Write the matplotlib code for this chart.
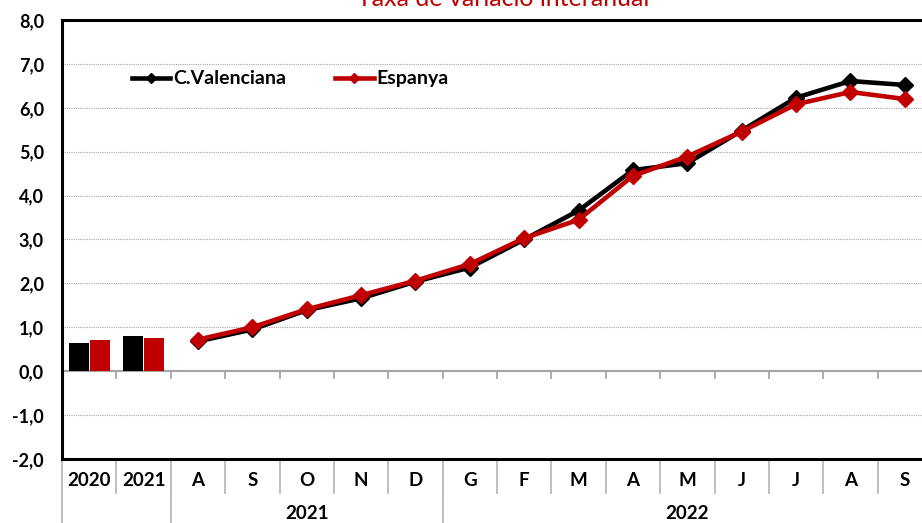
import numpy as np
import matplotlib
matplotlib.use("Agg")
from matplotlib import pyplot as plt
from matplotlib.ticker import FuncFormatter
import matplotlib.transforms as mtransforms

plt.rcParams['font.family'] = ['Lato', 'DejaVu Sans']

# annual bars + monthly lines
years_bar = ['2020', '2021']
cv_bar = [0.64, 0.81]
es_bar = [0.70, 0.75]

months = ['A', 'S', 'O', 'N', 'D', 'G', 'F', 'M', 'A', 'M', 'J', 'J', 'A', 'S']
cv_month = [0.68, 0.95, 1.39, 1.66, 2.04, 2.36, 3.00, 3.66, 4.58, 4.74, 5.48, 6.23, 6.61, 6.52]
es_month = [0.72, 1.00, 1.41, 1.73, 2.06, 2.44, 3.03, 3.45, 4.45, 4.89, 5.46, 6.08, 6.36, 6.20]

year_groups = [('2021', 2, 7), ('2022', 7, 16)]

BLACK = '#000000'
RED = '#c00000'
GRAY = '#bfbfbf'

fig = plt.figure(figsize=(9.22, 5.23), dpi=100)
ax = fig.add_axes([62/922, 1-459/523, 870/922, 439/523])

n_bar = len(years_bar)
xb = np.arange(n_bar)
w = 0.37
ax.bar(xb - 0.195, cv_bar, width=w, color=BLACK, zorder=3)
ax.bar(xb + 0.195, es_bar, width=w, color=RED, zorder=3)

xm = np.arange(len(months)) + n_bar
ax.plot(xm, cv_month, color=BLACK, lw=3.3, marker='D', ms=8, zorder=4, label='C.Valenciana')
ax.plot(xm, es_month, color=RED, lw=3.3, marker='D', ms=8, zorder=5, label='Espanya')

ax.set_xlim(-0.5, n_bar + len(months) - 0.5)
ax.set_ylim(-2, 8)
ax.set_yticks(np.arange(-2, 9, 1))
ax.yaxis.set_major_formatter(FuncFormatter(lambda v, p: ('%.1f' % v).replace('.', ',')))
ax.tick_params(axis='y', length=0, pad=13, labelsize=13)
for lab in ax.get_yticklabels():
    lab.set_fontweight('bold')
ax.set_xticks([])

ax.grid(axis='y', color='#a6a6a6', ls=(0, (1, 1)), lw=0.8, zorder=0)
ax.axhline(0, color='#a6a6a6', lw=1.5, zorder=2)

for s in ['top', 'left', 'bottom']:
    ax.spines[s].set_linewidth(2.2)
ax.spines['right'].set_visible(False)

# small ticks on the zero line
ntot = n_bar + len(months)
for k in range(1, ntot):
    ax.plot([k - 0.5, k - 0.5], [0, -0.15], color='#a6a6a6', lw=1.3, zorder=2)

# category table under the axis
tr = mtransforms.blended_transform_factory(ax.transData, ax.transAxes)
cats = years_bar + months
for i, c in enumerate(cats):
    ax.text(i, -0.048, c, transform=tr, ha='center', va='center',
            fontsize=13.5, fontweight='bold', clip_on=False)
for k in range(1, ntot):
    ax.plot([k - 0.5, k - 0.5], [0, -0.077], transform=tr, color=GRAY, lw=1.4, clip_on=False)
for k in [-0.5, 1.5, 6.5]:
    ax.plot([k, k], [0, -0.2], transform=tr, color=GRAY, lw=1.4, clip_on=False)
for name, a, b in year_groups:
    ax.text((a + b - 1) / 2, -0.125, name, transform=tr, ha='center', va='center',
            fontsize=13.5, fontweight='bold', clip_on=False)

leg = ax.legend(loc='center left', bbox_to_anchor=(0.08, 0.866), ncol=2, frameon=False,
                borderpad=0, borderaxespad=0, handlelength=2.0, handletextpad=0.15,
                columnspacing=2.5, markerscale=0.7, prop={'weight': 'bold', 'size': 14})

fig.text(503/922, 1 - 6/523, 'Taxa de variació interanual', color=RED,
         fontsize=18, ha='center', va='baseline')

fig.savefig('out.png', dpi=100)
